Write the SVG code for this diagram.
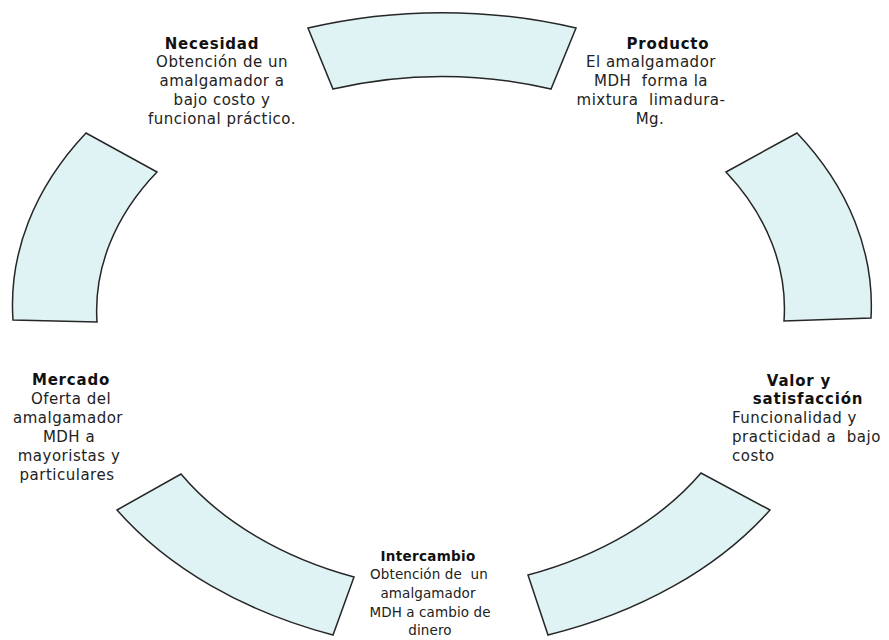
<svg xmlns="http://www.w3.org/2000/svg" width="889" height="640" viewBox="0 0 889 640">
<style>
.seg{fill:#dff3f4;stroke:#262626;stroke-width:1.5;stroke-linejoin:miter}
.h{font-family:"DejaVu Sans","Liberation Sans",sans-serif;font-weight:bold;font-size:15px;letter-spacing:0.8px;fill:#111;text-anchor:middle}
.b{font-family:"DejaVu Sans","Liberation Sans",sans-serif;font-size:15px;letter-spacing:0.5px;fill:#222;text-anchor:middle;white-space:pre}
.l{text-anchor:start}
.s{font-size:13.5px;letter-spacing:0.1px}
.hs{font-size:13.5px;letter-spacing:0.3px}
</style>
<rect width="889" height="640" fill="#ffffff"/>
<g id="segments">
<path id="seg-top" class="seg" d="M308,28 A429,307 0 0,1 576,28 L551,89 A344,245 0 0,0 333,89 Z"/>
<path id="seg-upper-right" class="seg" d="M797,133 A429,307 0 0,1 871,318 L784,321 A344,245 0 0,0 726,172 Z"/>
<path id="seg-lower-right" class="seg" d="M770,510 A429,307 0 0,1 548,635 L528,575 A344,245 0 0,0 701,473 Z"/>
<path id="seg-lower-left" class="seg" d="M333,635 A429,307 0 0,1 117,510 L181,474 A344,245 0 0,0 354,577 Z"/>
<path id="seg-upper-left" class="seg" d="M13,320 A429,307 0 0,1 86,133 L157,172 A344,245 0 0,0 97,322 Z"/>
</g>
<g id="necesidad">
<text class="h" x="212" y="49">Necesidad</text>
<text class="b" x="222" y="67">Obtención de un</text>
<text class="b" x="222" y="86">amalgamador a</text>
<text class="b" x="222" y="105">bajo costo y</text>
<text class="b" x="222" y="124">funcional práctico.</text>
</g>
<g id="producto">
<text class="h" x="668" y="49">Producto</text>
<text class="b" x="651" y="67">El amalgamador</text>
<text class="b" x="651" y="86">MDH  forma la</text>
<text class="b" x="651" y="105">mixtura  limadura-</text>
<text class="b" x="650" y="124">Mg.</text>
</g>
<g id="valor">
<text class="h" x="799" y="386">Valor  y</text>
<text class="h" x="808" y="404">satisfacción</text>
<text class="b l" x="732" y="423">Funcionalidad y</text>
<text class="b l" x="732" y="442">practicidad a  bajo</text>
<text class="b l" x="732" y="461">costo</text>
</g>
<g id="intercambio">
<text class="h hs" x="428" y="561">Intercambio</text>
<text class="b s" x="429" y="579">Obtención de  un</text>
<text class="b s" x="428" y="598">amalgamador</text>
<text class="b s" x="430" y="617">MDH a cambio de</text>
<text class="b s" x="430" y="635">dinero</text>
</g>
<g id="mercado">
<text class="h" x="71" y="385">Mercado</text>
<text class="b" x="71" y="404">Oferta del</text>
<text class="b" x="68" y="423">amalgamador</text>
<text class="b" x="69" y="442">MDH a</text>
<text class="b" x="69" y="461">mayoristas y</text>
<text class="b" x="67" y="480">particulares</text>
</g>
<g id="connectors"></g>
</svg>
